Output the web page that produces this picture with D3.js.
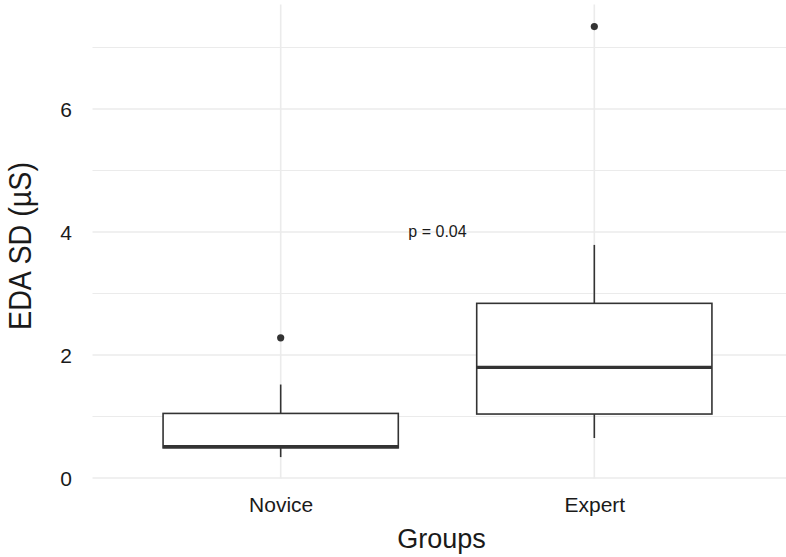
<!DOCTYPE html>
<html>
<head>
<meta charset="utf-8">
<script src="https://cdn.jsdelivr.net/npm/d3@7"></script>
<style>
  body { margin: 0; background: #fff; }
  text { font-family: "Liberation Sans", Arial, Helvetica, sans-serif; fill: #1a1a1a; }
</style>
</head>
<body>
<div class="grafico"></div>
<script>
// box statistics
const groups = ['Novice', 'Expert'];
const lowWhisker = [0.34, 0.65];
const q1 = [0.49, 1.04];
const median = [0.51, 1.80];
const q3 = [1.05, 2.84];
const highWhisker = [1.52, 3.79];
const outliers = [[2.28], [7.34]];
const majorTicks = [0, 2, 4, 6];
const minorTicks = [1, 3, 5, 7];
const pLabel = 'p = 0.04';
const pValueY = 4;

const w = 786;
const h = 557;

/* escalas */
const xScale = d3.scalePoint()
  .domain(groups)
  .range([92.5, 782.5])
  .padding(0.6);

const yScale = d3.scaleLinear()
  .domain([0, 7])
  .range([478, 47.5]);

const panelTop = yScale(7.7);
const panelBottom = yScale(-0.01);
const boxW = xScale.step() * 0.75;

const svg = d3.select('.grafico')
  .append('svg')
  .attr('width', w)
  .attr('height', h);

/* grid */
const grid = svg.append('g').attr('stroke', '#ebebeb');
grid.selectAll('.minor')
  .data(minorTicks)
  .join('line')
  .attr('x1', 92.5).attr('x2', 786)
  .attr('y1', d => yScale(d)).attr('y2', d => yScale(d))
  .attr('stroke-width', 1);
grid.selectAll('.major')
  .data(majorTicks)
  .join('line')
  .attr('x1', 92.5).attr('x2', 786)
  .attr('y1', d => yScale(d)).attr('y2', d => yScale(d))
  .attr('stroke-width', 1.6);
grid.selectAll('.vert')
  .data(groups)
  .join('line')
  .attr('x1', d => xScale(d)).attr('x2', d => xScale(d))
  .attr('y1', panelTop).attr('y2', panelBottom)
  .attr('stroke-width', 1.6);

/* ejes (solo etiquetas, como theme_minimal) */
const yAxis = d3.axisLeft(yScale)
  .tickValues(majorTicks)
  .tickFormat(d3.format('d'))
  .tickSize(0)
  .tickPadding(0);
svg.append('g')
  .attr('transform', 'translate(72,0)')
  .call(yAxis)
  .call(g => g.select('.domain').remove())
  .call(g => g.selectAll('text').attr('font-size', 21).attr('fill', '#1a1a1a')
    .attr('font-family', '"Liberation Sans", Arial, sans-serif').attr('dy', '0.36em'));

const xAxis = d3.axisBottom(xScale).tickSize(0).tickPadding(0);
svg.append('g')
  .attr('transform', 'translate(0,496)')
  .call(xAxis)
  .call(g => g.select('.domain').remove())
  .call(g => g.selectAll('text').attr('font-size', 21).attr('fill', '#1a1a1a')
    .attr('font-family', '"Liberation Sans", Arial, sans-serif').attr('dy', '0.76em'));

/* titulos de ejes */
svg.append('text')
  .attr('x', 441.5).attr('y', 548)
  .attr('text-anchor', 'middle')
  .attr('font-size', 27)
  .text('Groups');

svg.append('text')
  .attr('transform', 'translate(31,246) rotate(-90)')
  .attr('text-anchor', 'middle')
  .attr('font-size', 31)
  .attr('textLength', 168)
  .attr('lengthAdjust', 'spacingAndGlyphs')
  .text('EDA SD (µS)');

/* cajas */
const boxes = svg.append('g')
  .selectAll('g')
  .data(groups)
  .join('g');

boxes.append('line')
  .attr('x1', d => xScale(d)).attr('x2', d => xScale(d))
  .attr('y1', (d, i) => yScale(q3[i])).attr('y2', (d, i) => yScale(highWhisker[i]))
  .attr('stroke', '#333').attr('stroke-width', 1.6);
boxes.append('line')
  .attr('x1', d => xScale(d)).attr('x2', d => xScale(d))
  .attr('y1', (d, i) => yScale(q1[i])).attr('y2', (d, i) => yScale(lowWhisker[i]))
  .attr('stroke', '#333').attr('stroke-width', 1.6);
boxes.append('rect')
  .attr('x', d => xScale(d) - boxW / 2)
  .attr('width', boxW)
  .attr('y', (d, i) => yScale(q3[i]))
  .attr('height', (d, i) => yScale(q1[i]) - yScale(q3[i]))
  .attr('fill', '#fff').attr('stroke', '#333').attr('stroke-width', 1.6);
boxes.append('line')
  .attr('x1', d => xScale(d) - boxW / 2).attr('x2', d => xScale(d) + boxW / 2)
  .attr('y1', (d, i) => yScale(median[i])).attr('y2', (d, i) => yScale(median[i]))
  .attr('stroke', '#333').attr('stroke-width', 3.2);

/* outliers */
boxes.selectAll('circle')
  .data((d, i) => outliers[i].map(v => ({ g: d, v })))
  .join('circle')
  .attr('cx', d => xScale(d.g))
  .attr('cy', d => yScale(d.v))
  .attr('r', 3.6)
  .attr('fill', '#333');

/* p valor */
svg.append('text')
  .attr('x', (xScale(groups[0]) + xScale(groups[1])) / 2)
  .attr('y', yScale(pValueY) + 5)
  .attr('text-anchor', 'middle')
  .attr('font-size', 16)
  .text(pLabel);
</script>
</body>
</html>
